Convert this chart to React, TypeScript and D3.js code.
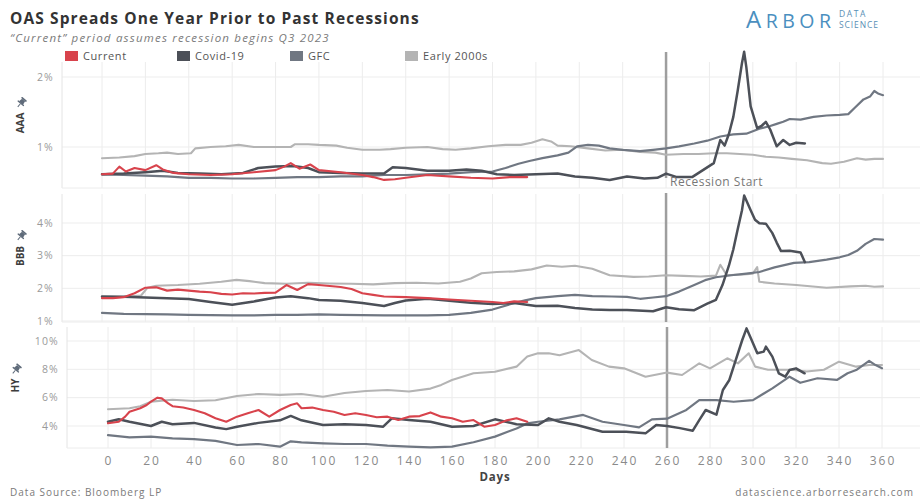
import React from "react";
import * as d3 from "d3";

type Pt = [number, number];

// ---- data: spread (%) by day relative to start of window ----
const dayTicks = [0, 20, 40, 60, 80, 100, 120, 140, 160, 180, 200, 220, 240, 260, 280, 300, 320, 340, 360];
const recessionDay = 260;

const aaaTicks = [1, 2];
const bbbTicks = [1, 2, 3, 4];
const hyTicks = [4, 6, 8, 10];

const seriesNames = ["Current", "Covid-19", "GFC", "Early 2000s"];

const aaaCurrent: Pt[] = [[0,0.61],[5,0.62],[8,0.72],[11,0.65],[15,0.70],[20,0.67],[25,0.74],[28,0.68],[33,0.63],[40,0.61],[50,0.60],[60,0.61],[70,0.64],[80,0.67],[84,0.72],[87,0.77],[91,0.69],[96,0.75],[100,0.67],[110,0.64],[120,0.60],[125,0.57],[130,0.53],[135,0.54],[140,0.56],[150,0.60],[155,0.59],[160,0.58],[170,0.56],[180,0.55],[188,0.57],[196,0.57]];
const aaaCovid: Pt[] = [[0,0.61],[10,0.62],[20,0.64],[28,0.66],[35,0.63],[45,0.62],[55,0.61],[65,0.63],[72,0.70],[80,0.72],[88,0.73],[95,0.70],[100,0.64],[110,0.63],[120,0.62],[130,0.62],[134,0.71],[140,0.70],[150,0.66],[160,0.66],[168,0.68],[175,0.66],[182,0.61],[190,0.60],[200,0.61],[210,0.62],[218,0.58],[226,0.56],[234,0.53],[242,0.58],[250,0.55],[256,0.56],[260,0.62],[265,0.57],[272,0.57],[277,0.67],[282,0.77],[285,1.10],[287,1.02],[289,1.19],[291,1.43],[293,1.80],[295,2.20],[296,2.36],[297,2.14],[299,1.58],[302,1.27],[304,1.30],[306,1.36],[308,1.25],[311,1.01],[314,1.10],[317,1.03],[320,1.06],[324,1.05]];
const aaaGfc: Pt[] = [[0,0.61],[10,0.60],[20,0.59],[30,0.58],[40,0.56],[50,0.56],[60,0.55],[70,0.55],[80,0.56],[90,0.57],[100,0.57],[110,0.58],[120,0.58],[130,0.60],[140,0.60],[150,0.61],[160,0.62],[170,0.64],[180,0.65],[186,0.70],[192,0.76],[197,0.80],[203,0.84],[210,0.88],[215,0.92],[219,1.01],[224,1.03],[229,1.02],[234,0.98],[240,0.96],[248,0.94],[254,0.96],[260,0.98],[266,1.01],[273,1.05],[279,1.09],[285,1.15],[291,1.18],[297,1.19],[303,1.26],[308,1.30],[311,1.33],[314,1.36],[317,1.40],[322,1.39],[328,1.43],[334,1.45],[340,1.46],[344,1.47],[347,1.56],[351,1.68],[354,1.72],[356,1.80],[358,1.76],[360,1.74]];
const aaaEarly: Pt[] = [[0,0.84],[8,0.85],[15,0.87],[20,0.90],[26,0.91],[30,0.92],[35,0.90],[41,0.91],[43,0.98],[50,1.00],[57,1.01],[63,1.03],[70,1.00],[80,1.00],[87,1.00],[89,1.04],[95,1.04],[100,1.03],[108,1.02],[113,0.99],[120,0.96],[128,0.96],[133,0.97],[140,0.99],[150,1.00],[157,0.97],[163,0.96],[170,0.98],[178,1.01],[186,1.03],[193,1.03],[198,1.06],[203,1.11],[207,1.08],[210,1.02],[216,1.01],[224,0.98],[232,0.95],[240,0.96],[248,0.93],[255,0.92],[260,0.89],[268,0.90],[275,0.90],[282,0.91],[288,0.91],[294,0.90],[300,0.89],[306,0.86],[312,0.85],[318,0.83],[325,0.81],[332,0.77],[336,0.76],[342,0.79],[348,0.84],[352,0.82],[356,0.83],[360,0.83]];

const bbbCurrent: Pt[] = [[0,1.70],[5,1.70],[10,1.73],[15,1.85],[20,2.02],[25,2.03],[30,1.93],[35,1.96],[40,1.93],[45,1.90],[50,1.88],[55,1.83],[60,1.81],[65,1.85],[70,1.84],[75,1.86],[80,1.87],[85,2.10],[90,1.95],[95,2.13],[100,2.10],[105,2.07],[110,2.04],[115,1.98],[120,1.85],[125,1.80],[130,1.75],[140,1.73],[150,1.70],[160,1.66],[170,1.62],[180,1.58],[185,1.55],[190,1.60],[196,1.58]];
const bbbCovid: Pt[] = [[0,1.75],[10,1.74],[20,1.72],[30,1.70],[40,1.67],[50,1.58],[60,1.50],[70,1.60],[80,1.72],[87,1.76],[95,1.70],[100,1.64],[110,1.62],[120,1.55],[130,1.46],[135,1.55],[140,1.63],[150,1.68],[160,1.62],[170,1.56],[180,1.52],[190,1.55],[200,1.46],[210,1.47],[218,1.40],[226,1.35],[234,1.34],[242,1.34],[254,1.30],[260,1.42],[266,1.36],[273,1.33],[279,1.53],[283,1.65],[286,2.10],[289,2.70],[291,3.19],[293,3.80],[295,4.39],[296,4.84],[299,4.39],[301,4.10],[303,3.99],[306,3.98],[309,3.69],[311,3.40],[313,3.14],[317,3.15],[322,3.10],[324,2.80]];
const bbbGfc: Pt[] = [[0,1.25],[10,1.22],[20,1.21],[30,1.20],[40,1.19],[50,1.18],[60,1.17],[70,1.17],[80,1.19],[90,1.19],[100,1.20],[110,1.19],[120,1.18],[130,1.17],[140,1.17],[150,1.17],[160,1.19],[170,1.25],[180,1.35],[190,1.55],[195,1.63],[200,1.70],[210,1.76],[218,1.80],[226,1.76],[235,1.75],[242,1.74],[248,1.68],[254,1.72],[260,1.76],[266,1.90],[273,2.10],[278,2.25],[283,2.34],[290,2.40],[297,2.45],[303,2.50],[310,2.64],[319,2.78],[326,2.80],[334,2.88],[340,2.95],[344,3.02],[348,3.15],[352,3.36],[356,3.51],[360,3.49]];
const bbbEarly: Pt[] = [[0,1.72],[10,1.74],[18,1.78],[21,2.02],[25,2.08],[35,2.10],[45,2.14],[55,2.20],[62,2.26],[68,2.22],[75,2.16],[85,2.14],[95,2.17],[105,2.15],[115,2.14],[125,2.12],[135,2.16],[145,2.17],[155,2.15],[165,2.20],[170,2.30],[175,2.46],[182,2.50],[190,2.52],[198,2.58],[205,2.70],[212,2.66],[218,2.69],[226,2.60],[234,2.40],[245,2.35],[252,2.36],[260,2.40],[268,2.38],[276,2.36],[283,2.39],[285,2.72],[288,2.40],[294,2.42],[300,2.45],[302,2.65],[303,2.20],[310,2.15],[320,2.10],[334,2.02],[345,2.06],[352,2.08],[356,2.05],[360,2.06]];

const hyCurrent: Pt[] = [[0,4.19],[5,4.30],[8,4.66],[10,5.01],[15,5.25],[18,5.48],[20,5.72],[23,6.00],[25,5.95],[28,5.60],[30,5.40],[35,5.30],[40,5.13],[45,4.90],[50,4.55],[55,4.30],[60,4.66],[65,4.90],[70,5.13],[75,4.66],[80,5.13],[85,5.48],[88,5.60],[90,5.25],[95,5.30],[100,5.13],[105,5.01],[110,4.78],[115,4.90],[120,4.78],[125,4.62],[130,4.66],[135,4.42],[140,4.66],[145,4.70],[150,4.96],[155,4.66],[160,4.55],[165,4.30],[170,4.42],[175,3.95],[180,4.07],[185,4.38],[190,4.55],[195,4.30]];
const hyCovid: Pt[] = [[0,4.30],[5,4.47],[10,4.30],[20,4.00],[25,4.30],[30,4.13],[40,4.22],[50,3.90],[55,3.78],[60,3.95],[70,4.22],[80,4.40],[85,4.71],[90,4.40],[100,4.07],[110,4.13],[120,4.07],[128,3.95],[132,4.54],[140,4.42],[150,4.30],[160,3.95],[170,4.00],[180,4.47],[190,4.13],[200,4.07],[205,4.54],[210,4.30],[218,4.07],[230,3.60],[241,3.60],[250,3.48],[255,4.07],[260,4.00],[266,3.85],[272,3.67],[275,4.42],[278,5.13],[283,4.80],[286,6.54],[289,7.25],[292,8.66],[295,10.07],[297,10.89],[299,10.20],[302,9.13],[305,9.25],[306,9.60],[309,8.90],[312,7.72],[315,7.48],[317,7.95],[320,8.07],[324,7.72]];
const hyGfc: Pt[] = [[0,3.36],[10,3.20],[20,3.25],[30,3.13],[40,3.08],[50,2.95],[60,2.66],[70,2.73],[80,2.54],[85,2.92],[90,2.85],[100,2.78],[110,2.73],[120,2.73],[130,2.61],[140,2.54],[150,2.49],[160,2.54],[170,2.85],[180,3.25],[190,3.83],[195,4.18],[200,4.30],[210,4.47],[221,4.78],[230,4.30],[240,4.07],[247,3.90],[253,4.47],[260,4.52],[269,5.13],[275,5.83],[283,5.83],[291,5.71],[300,5.83],[309,6.66],[317,7.48],[322,7.05],[330,7.37],[339,7.25],[344,7.72],[348,7.95],[354,8.60],[357,8.30],[360,8.07]];
const hyEarly: Pt[] = [[0,5.18],[10,5.25],[15,5.40],[20,5.72],[30,5.85],[40,5.76],[50,5.82],[60,6.12],[70,6.26],[80,6.20],[90,6.26],[100,6.07],[110,6.33],[120,6.47],[130,6.54],[140,6.43],[150,6.64],[155,6.90],[160,7.25],[170,7.72],[180,7.83],[190,8.19],[195,8.90],[200,9.13],[205,9.13],[210,9.00],[219,9.36],[225,8.66],[233,8.19],[240,8.07],[250,7.48],[260,7.77],[267,7.60],[275,8.42],[280,8.07],[288,8.78],[293,8.42],[298,9.13],[301,8.19],[307,7.97],[318,7.97],[325,7.85],[333,7.97],[340,8.54],[348,8.19],[354,8.31],[360,8.31]];

// ---- styling ----
const COLORS: Record<string, string> = {
  "Current": "#d8434c",
  "Covid-19": "#4c5058",
  "GFC": "#707782",
  "Early 2000s": "#b4b4b4",
};
const WIDTHS: Record<string, number> = {
  "Current": 2.1,
  "Covid-19": 2.5,
  "GFC": 2.2,
  "Early 2000s": 2.1,
};
const FONT = "'Open Sans', 'DejaVu Sans', sans-serif";

interface Panel {
  name: string;
  top: number;
  bottom: number;
  left: number;
  xRange: [number, number];
  yDomain: [number, number];
  yRange: [number, number];
  ticks: number[];
  labelRight: number;
  labelX: number;
  recession: [number, number];
  series: Record<string, Pt[]>;
}

const panels: Panel[] = [
  {
    name: "AAA", top: 62, bottom: 188, left: 62, xRange: [102, 883],
    yDomain: [1, 2], yRange: [147, 77], ticks: aaaTicks, labelRight: 54, labelX: 21,
    recession: [52, 178],
    series: { "Early 2000s": aaaEarly, "GFC": aaaGfc, "Covid-19": aaaCovid, "Current": aaaCurrent },
  },
  {
    name: "BBB", top: 194, bottom: 322, left: 62, xRange: [102, 883],
    yDomain: [1, 4], yRange: [321, 223], ticks: bbbTicks, labelRight: 54, labelX: 21,
    recession: [193, 322],
    series: { "Early 2000s": bbbEarly, "GFC": bbbGfc, "Covid-19": bbbCovid, "Current": bbbCurrent },
  },
  {
    name: "HY", top: 327, bottom: 448, left: 67, xRange: [108, 882],
    yDomain: [4, 10], yRange: [426, 341], ticks: hyTicks, labelRight: 59, labelX: 16,
    recession: [327, 448],
    series: { "Early 2000s": hyEarly, "GFC": hyGfc, "Covid-19": hyCovid, "Current": hyCurrent },
  },
];

const drawOrder = ["Early 2000s", "GFC", "Covid-19", "Current"];

function Pin({ x, y }: { x: number; y: number }) {
  return (
    <g transform={`translate(${x},${y}) rotate(40)`} fill="#5f6b7a">
      <rect x={-3.2} y={-5.5} width={6.4} height={1.6} rx={0.5} />
      <path d="M-2,-4 L2,-4 L2.6,0 L-2.6,0 Z" />
      <rect x={-4} y={-0.4} width={8} height={1.4} rx={0.5} />
      <line x1={0} y1={1} x2={0} y2={5} stroke="#5f6b7a" strokeWidth={1} />
    </g>
  );
}

function PanelView({ p }: { p: Panel }) {
  const x = d3.scaleLinear().domain([0, 360]).range(p.xRange);
  const y = d3.scaleLinear().domain(p.yDomain).range(p.yRange);
  const line = d3.line<Pt>().x(d => x(d[0])).y(d => y(d[1])).curve(d3.curveLinear);
  const mid = (p.top + p.bottom) / 2;
  return (
    <g>
      {/* grid */}
      {dayTicks.map(t => (
        <line key={"v" + t} x1={x(t)} x2={x(t)} y1={p.top} y2={p.bottom} stroke="#ececec" strokeWidth={1} />
      ))}
      {p.ticks.map(t => (
        <line key={"h" + t} x1={p.left} x2={920} y1={y(t)} y2={y(t)} stroke="#ededed" strokeWidth={1} />
      ))}
      <line x1={p.left} x2={p.left} y1={p.top} y2={p.bottom} stroke="#e4e4e4" />
      <line x1={p.left} x2={920} y1={p.bottom} y2={p.bottom} stroke="#ececec" />
      {/* y tick labels */}
      {p.ticks.map(t => (
        <text key={"l" + t} x={p.labelRight} y={y(t) + 3.5} textAnchor="end" fontSize={10.5}
          letterSpacing={1.2} fill="#9a9a9a" fontFamily={FONT}>{`${t}%`}</text>
      ))}
      {/* panel name */}
      <g transform={`translate(${p.labelX + 3},${mid - 2}) rotate(-90)`}>
        <text x={0} y={0} textAnchor="middle" fontSize={10} fontWeight={700} fill="#3d3d3d"
          fontFamily={FONT}>{p.name}</text>
      </g>
      <Pin x={p.labelX} y={mid - (p.name.length * 4 + 10)} />
      {/* recession marker */}
      <line x1={x(recessionDay)} x2={x(recessionDay)} y1={p.recession[0]} y2={p.recession[1]}
        stroke="#9e9e9e" strokeWidth={2.5} />
      {/* series */}
      {drawOrder.map(name => (
        <path key={name} d={line(p.series[name]) || ""} fill="none" stroke={COLORS[name]}
          strokeWidth={WIDTHS[name]} strokeLinejoin="round" strokeLinecap="round" />
      ))}
    </g>
  );
}

export default function App() {
  const hyPanel = panels[2];
  const xHy = d3.scaleLinear().domain([0, 360]).range(hyPanel.xRange);
  const xTop = d3.scaleLinear().domain([0, 360]).range(panels[0].xRange);
  const legendX = [65, 177, 290, 405];
  return (
    <div style={{ position: "absolute", left: 0, top: 0 }}>
      <svg width={922} height={500} style={{ display: "block", background: "#fff" }}>
        {/* title block */}
        <text x={10} y={24} fontSize={15.5} fontWeight={700} fill="#333" fontFamily={FONT}
          letterSpacing={1.1}>OAS Spreads One Year Prior to Past Recessions</text>
        <text x={10} y={42} fontSize={11.5} fontStyle="italic" fill="#7a7a7a" fontFamily={FONT}
          letterSpacing={1.2}>“Current” period assumes recession begins Q3 2023</text>

        {/* logo */}
        <text x={746} y={28} fill="#4b8fbf" fontFamily={FONT} letterSpacing={4.5}>
          <tspan fontSize={24}>A</tspan>
          <tspan fontSize={19.5}>RBOR</tspan>
        </text>
        <text x={839} y={17} fontSize={8.5} fill="#5a8fb5" fontFamily={FONT} letterSpacing={1.6}>DATA</text>
        <text x={839} y={27.5} fontSize={8.5} fill="#5a8fb5" fontFamily={FONT} letterSpacing={0.9}>SCIENCE</text>

        {/* legend */}
        {seriesNames.map((n, i) => (
          <g key={n}>
            <rect x={legendX[i]} y={51} width={13} height={10} fill={COLORS[n]} />
            <text x={legendX[i] + 18} y={60} fontSize={11} fill="#555" fontFamily={FONT}
              letterSpacing={0.6}>{n}</text>
          </g>
        ))}

        {panels.map(p => <PanelView key={p.name} p={p} />)}

        <text x={xTop(recessionDay) + 4} y={186} fontSize={12} fill="#777" fontFamily={FONT}
          letterSpacing={0.5}>Recession Start</text>

        {/* x axis */}
        {dayTicks.map(t => (
          <text key={t} x={xHy(t) + 1} y={465} textAnchor="middle" fontSize={12} fill="#8a8a8a"
            fontFamily={FONT} letterSpacing={2}>{t}</text>
        ))}
        <text x={(hyPanel.xRange[0] + hyPanel.xRange[1]) / 2} y={481} textAnchor="middle" fontSize={11.5}
          fontWeight={700} fill="#444" fontFamily={FONT} letterSpacing={0.8}>Days</text>

        {/* footer */}
        <text x={10} y={496} fontSize={10} fill="#7a7a7a" fontFamily={FONT} letterSpacing={1}>Data Source: Bloomberg LP</text>
        <text x={914} y={496} textAnchor="end" fontSize={10} fill="#7a7a7a" fontFamily={FONT}
          letterSpacing={1.1}>datascience.arborresearch.com</text>
      </svg>
    </div>
  );
}
